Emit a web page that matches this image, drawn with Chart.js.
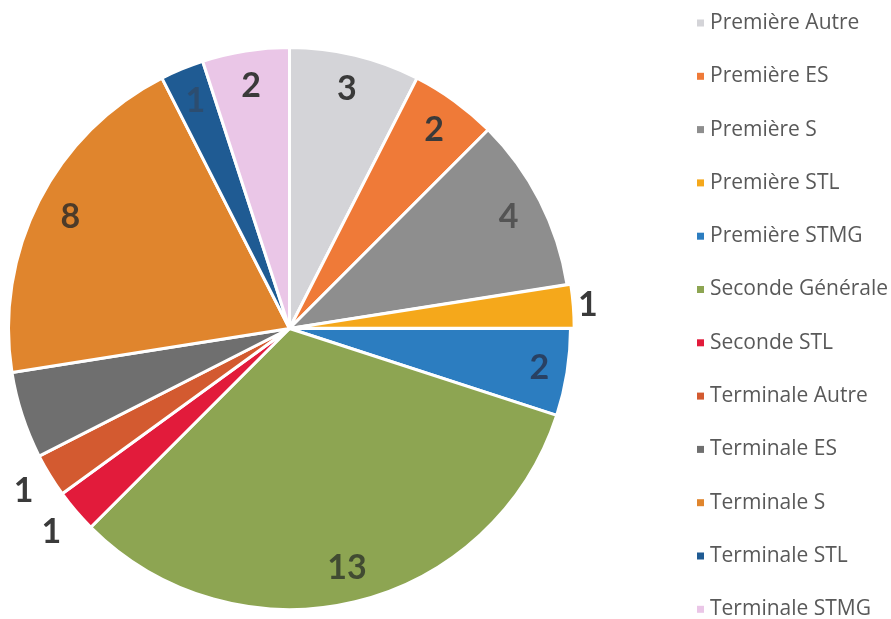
<!DOCTYPE html>
<html lang="fr">
<head>
<meta charset="utf-8">
<title>Répartition des adhérents</title>
<script src="https://cdn.jsdelivr.net/npm/chart.js@4.4.1/dist/chart.umd.min.js"></script>
<style>
  html, body { margin: 0; padding: 0; background: #fff; }
  #wrap { width: 891px; height: 619px; position: relative; }
</style>
</head>
<body>
<div id="wrap"><canvas id="pieChart" width="891" height="619"></canvas></div>
<script>
// classes / niveaux
const classes = [
  "Première Autre", "Première ES", "Première S", "Première STL",
  "Première STMG", "Seconde Générale", "Seconde STL", "Terminale Autre",
  "Terminale ES", "Terminale S", "Terminale STL", "Terminale STMG",
];
// nombre d'adhérents par classe
const effectifs = [3, 2, 4, 1, 2, 13, 1, 1, 2, 8, 1, 2];

const sliceColors = [
  "#d4d4d8", "#ef7a38", "#8e8e8e", "#f5a81b",
  "#2c7dc0", "#8da552", "#e21b3b", "#d35a30",
  "#6f6f6f", "#e0852d", "#1f5b93", "#eac6e7",
];

// label look: colour and radial factor (null = not shown)
const labelColors = [
  "#3a3a3a", "#3a3a3a", "rgba(45,45,45,0.6)", "#3a3a3a",
  "rgba(40,40,60,0.7)", "rgba(40,45,40,0.75)", "#3a3a3a", "#3a3a3a",
  null, "rgba(40,40,40,0.8)", "rgba(60,60,70,0.45)", "#3a3a3a",
];
const labelRadius = [0.875, 0.875, 0.875, 1.065, 0.9, 0.875, 1.115, 1.11, 0.875, 0.875, 0.875, 0.875];

// draw the value labels on / beside the slices
const valueLabels = {
  id: "valueLabels",
  afterDatasetsDraw(chart) {
    const { ctx } = chart;
    const meta = chart.getDatasetMeta(0);
    ctx.save();
    ctx.font = "bold 34px Lato, 'Open Sans', sans-serif";
    ctx.textAlign = "center";
    ctx.textBaseline = "middle";
    meta.data.forEach((arc, i) => {
      if (!labelColors[i]) return;
      const p = arc.getProps(["x", "y", "startAngle", "endAngle", "outerRadius"], true);
      const mid = (p.startAngle + p.endAngle) / 2;
      const r = p.outerRadius * labelRadius[i];
      ctx.fillStyle = labelColors[i];
      ctx.fillText(String(effectifs[i]), p.x + Math.cos(mid) * r, p.y + Math.sin(mid) * r);
    });
    ctx.restore();
  },
};

// legend down the right side
const sideLegend = {
  id: "sideLegend",
  afterDraw(chart) {
    const { ctx } = chart;
    ctx.save();
    ctx.font = "21px 'Open Sans', sans-serif";
    ctx.textAlign = "left";
    ctx.textBaseline = "middle";
    const top = 23, step = 53.3;
    classes.forEach((name, i) => {
      const y = top + i * step;
      ctx.fillStyle = sliceColors[i];
      ctx.fillRect(697, y - 3.5, 7, 7);
      ctx.fillStyle = "#595959";
      ctx.fillText(name, 710, y);
    });
    ctx.restore();
  },
};

new Chart(document.getElementById("pieChart"), {
  type: "pie",
  data: {
    labels: classes,
    datasets: [{
      data: effectifs,
      backgroundColor: sliceColors,
      borderColor: "#ffffff",
      borderWidth: 3,
      offset: [0, 0, 0, 8, 0, 0, 0, 0, 0, 0, 0, 0],
    }],
  },
  options: {
    responsive: false,
    animation: false,
    layout: { padding: { left: 3, right: 315, top: 42, bottom: 4 } },
    plugins: {
      legend: { display: false },
      tooltip: { enabled: false },
    },
  },
  plugins: [valueLabels, sideLegend],
});
</script>
</body>
</html>
